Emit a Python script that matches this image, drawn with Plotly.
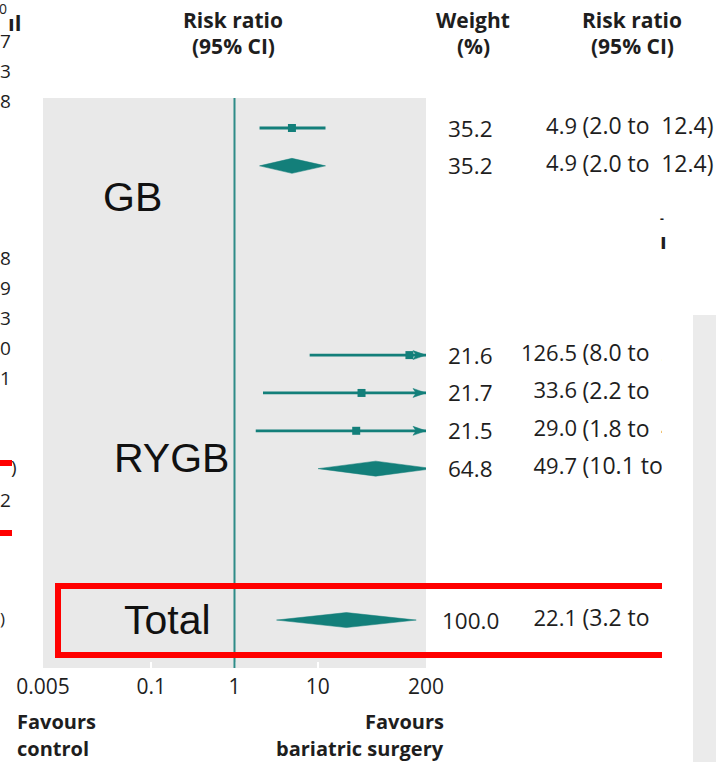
import math
import plotly.graph_objects as go

# ---- study-level results: risk ratio, 95% CI, weight (%) ----
gb_rr = [4.9]
gb_lo = [2.0]
gb_hi = [12.4]
gb_weight = [35.2]

rygb_rr = [126.5, 33.6, 29.0]
rygb_lo = [8.0, 2.2, 1.8]
rygb_hi = [2000.0, 513.0, 467.0]
rygb_weight = [21.6, 21.7, 21.5]

# ---- pooled estimates ----
pooled_names = ["GB", "RYGB", "Total"]
pooled_rr = [4.9, 49.7, 22.1]
pooled_lo = [2.0, 10.1, 3.2]
pooled_hi = [12.4, 244.6, 152.6]
pooled_weight = [35.2, 64.8, 100.0]

tick_vals = [0.005, 0.1, 1, 10, 200]
tick_text = ["0.005", "0.1", "1", "10", "200"]

# ---- layout geometry (pixels) ----
W, H = 716, 762
PL, PR, PT, PB = 43, 426, 98, 668          # forest panel
ROW0_Y, ROW_H = 128, 37.85                  # first row centre and row pitch
XMIN, XMAX = tick_vals[0], tick_vals[-1]

study_rows = [0, 6, 7, 8]
pooled_rows = [1, 9, 13]
label_rows = [1.82, 8.72, 13.0]
label_px = [132.5, 171, 167.5]

TEAL = "#137f7a"
LINE_TEAL = "#2e8c88"
PANEL = "#e9e9e9"
TXT = "#1e1e1e"
NUM_FONT = "Open Sans"
LBL_FONT = "Liberation Sans, Arial"
GAP = "\u2002"   # wider gap before the upper limit


def px(xp):
    return xp / W


def py(yp):
    return 1 - yp / H


def row_at(yp):
    return (yp - ROW0_Y) / ROW_H


dec_per_px = (math.log10(XMAX) - math.log10(XMIN)) / (PR - PL)
row_per_px = 1 / ROW_H
y_range = [row_at(PB), row_at(PT)]

study_rr = gb_rr + rygb_rr
study_lo = gb_lo + rygb_lo
study_hi = gb_hi + rygb_hi
study_w = gb_weight + rygb_weight

fig = go.Figure()

# line of no effect
fig.add_trace(go.Scatter(x=[1, 1], y=y_range, mode="lines",
                         line=dict(color=LINE_TEAL, width=2), hoverinfo="skip"))

# confidence interval whiskers (truncated at the axis limit)
cx, cy = [], []
for r, lo, hi in zip(study_rows, study_lo, study_hi):
    cx += [lo, min(hi, XMAX), None]
    cy += [r, r, None]
fig.add_trace(go.Scatter(x=cx, y=cy, mode="lines",
                         line=dict(color=TEAL, width=2.8), hoverinfo="skip"))

# arrowheads where the CI runs past the axis
ax_, ay_ = [], []
head_len = 13 * dec_per_px
notch = 3 * dec_per_px
half_h = 4.5 * row_per_px
for r, hi in zip(study_rows, study_hi):
    if hi > XMAX:
        tip = math.log10(XMAX)
        ax_ += [10 ** (tip - head_len), 10 ** tip, 10 ** (tip - head_len),
                10 ** (tip - head_len + notch), 10 ** (tip - head_len), None]
        ay_ += [r - half_h, r, r + half_h, r, r - half_h, None]
fig.add_trace(go.Scatter(x=ax_, y=ay_, mode="lines", fill="toself",
                         fillcolor=TEAL, line=dict(color=TEAL, width=0.5),
                         hoverinfo="skip"))

# point estimates
fig.add_trace(go.Scatter(x=study_rr, y=study_rows, mode="markers",
                         marker=dict(symbol="square", size=8, color=TEAL),
                         hoverinfo="skip"))

# pooled diamonds
dh = 7.5 * row_per_px
for r, est, lo, hi in zip(pooled_rows, pooled_rr, pooled_lo, pooled_hi):
    fig.add_trace(go.Scatter(x=[lo, est, hi, est, lo], y=[r, r - dh, r, r + dh, r],
                             mode="lines", fill="toself", fillcolor=TEAL,
                             line=dict(color=TEAL, width=0.5), hoverinfo="skip"))

# risk ratio column on a full-page text layer: estimate right aligned, CI left aligned
all_rows = study_rows + pooled_rows
all_rr = study_rr + pooled_rr
all_lo = study_lo + pooled_lo
all_hi = study_hi + pooled_hi
all_w = study_w + pooled_weight

fig.add_trace(go.Scatter(
    x=[577] * len(all_rows), y=all_rows, mode="text", xaxis="x2", yaxis="y2",
    text=[f"{v:.1f}" for v in all_rr], textposition="middle left",
    textfont=dict(family=NUM_FONT, size=22, color=TXT), hoverinfo="skip"))
fig.add_trace(go.Scatter(
    x=[582.5] * len(all_rows), y=all_rows, mode="text", xaxis="x2", yaxis="y2",
    text=[f"({lo:.1f} to{GAP}{hi:.1f})" for lo, hi in zip(all_lo, all_hi)],
    textposition="middle right",
    textfont=dict(family=NUM_FONT, size=23, color=TXT), hoverinfo="skip"))

ann = []
# weight column
for r, w in zip(all_rows, all_w):
    ann.append(dict(x=px(471), y=r, xref="paper", yref="y", text=f"{w:.1f}",
                    showarrow=False, xanchor="center", yanchor="middle",
                    font=dict(family=NUM_FONT, size=22.5, color=TXT)))

# column headers
for cx_, l1, l2 in [(233, "Risk ratio", "(95% CI)"), (473, "Weight", "(%)"),
                    (632, "Risk ratio", "(95% CI)")]:
    for yy, t in [(20, l1), (46, l2)]:
        ann.append(dict(x=px(cx_), y=py(yy), xref="paper", yref="paper", text=f"<b>{t}</b>",
                        showarrow=False, xanchor="center", yanchor="middle",
                        font=dict(family=NUM_FONT, size=21, color=TXT)))

# group labels
for name, r, xp in zip(pooled_names, label_rows, label_px):
    ann.append(dict(x=px(xp), y=r, xref="paper", yref="y", text=name,
                    showarrow=False, xanchor="center", yanchor="middle",
                    font=dict(family=LBL_FONT, size=41, color="#111111")))

# favours labels
for yy, t in [(721, "Favours"), (748, "control")]:
    ann.append(dict(x=px(15), y=py(yy), xref="paper", yref="paper", text=f"<b>{t}</b>",
                    showarrow=False, xanchor="left", yanchor="middle",
                    font=dict(family=NUM_FONT, size=20, color=TXT)))
for yy, t in [(721, "Favours"), (748, "bariatric surgery")]:
    ann.append(dict(x=px(446), y=py(yy), xref="paper", yref="paper", text=f"<b>{t}</b>",
                    showarrow=False, xanchor="right", yanchor="middle",
                    font=dict(family=NUM_FONT, size=20, color=TXT)))

# margin fragments
edge_bits = [("0", 3, 8, 14, False), ("ıl", 15, 22, 22, True), ("7", 5, 41, 19, False),
             ("3", 5, 71, 19, False), ("8", 5, 101, 19, False), ("8", 5, 258, 19, False),
             ("9", 5, 288, 19, False), ("3", 5, 318, 19, False), ("0", 5, 348, 19, False),
             ("1", 5, 378, 19, False), (")", 14, 467, 19, False), ("2", 5, 500, 19, False),
             (")", 2, 618, 17, False), ("ı", 663, 240, 22, True), ("-", 662, 218, 12, True)]
for t, xp, yp, fs, bold in edge_bits:
    ann.append(dict(x=px(xp), y=py(yp), xref="paper", yref="paper",
                    text=f"<b>{t}</b>" if bold else t,
                    showarrow=False, xanchor="center", yanchor="middle",
                    font=dict(family=NUM_FONT, size=fs, color=TXT)))

shapes = [
    # forest panel background
    dict(type="rect", xref="paper", yref="paper", x0=px(PL), x1=px(PR), y0=py(PB), y1=py(PT),
         fillcolor=PANEL, line=dict(width=0), layer="below"),
    dict(type="rect", xref="paper", yref="paper", x0=px(58), x1=px(760), y0=py(586), y1=py(655),
         line=dict(color="#ff0000", width=6), layer="above"),
    dict(type="line", xref="paper", yref="paper", x0=px(-5), x1=px(12), y0=py(463), y1=py(463),
         line=dict(color="#ff0000", width=6), layer="above"),
    dict(type="line", xref="paper", yref="paper", x0=px(-5), x1=px(12), y0=py(533), y1=py(533),
         line=dict(color="#ff0000", width=6), layer="above"),
    dict(type="rect", xref="paper", yref="paper", x0=px(662), x1=px(730), y0=py(300), y1=py(780),
         fillcolor="white", line=dict(width=0), layer="above"),
    dict(type="rect", xref="paper", yref="paper", x0=px(693), x1=px(730), y0=py(315), y1=py(780),
         fillcolor="#ebebeb", line=dict(width=0), layer="above"),
]

fig.update_layout(
    template="none",
    width=W, height=H, showlegend=False,
    margin=dict(l=0, r=0, t=0, b=0, pad=0, autoexpand=False),
    paper_bgcolor="white", plot_bgcolor="rgba(0,0,0,0)",
    xaxis=dict(type="log", range=[math.log10(XMIN), math.log10(XMAX)],
               domain=[px(PL), px(PR)], anchor="y", automargin=False,
               tickvals=tick_vals, ticktext=tick_text, ticks="inside", ticklen=6,
               tickwidth=2, tickcolor="white", showgrid=False, zeroline=False,
               showline=False, layer="below traces", ticklabelstandoff=4,
               tickfont=dict(family=NUM_FONT, size=21, color=TXT)),
    yaxis=dict(range=y_range, domain=[py(PB), py(PT)], anchor="x", visible=False,
               automargin=False),
    xaxis2=dict(range=[0, W], domain=[0, 1], anchor="y2", visible=False, automargin=False),
    yaxis2=dict(range=[row_at(H), row_at(0)], domain=[0, 1], anchor="x2", visible=False,
                automargin=False),
    annotations=ann, shapes=shapes,
)

fig.write_html("out.html")
